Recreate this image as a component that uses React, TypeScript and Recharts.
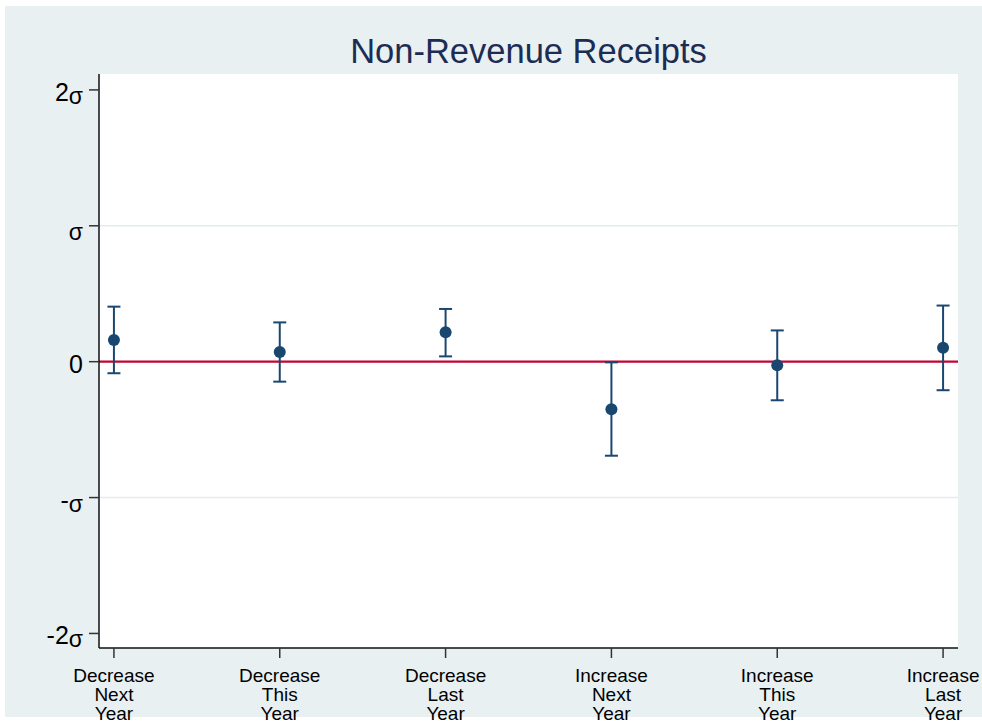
import React from 'react';
import {
  ComposedChart,
  Scatter,
  ErrorBar,
  XAxis,
  YAxis,
  CartesianGrid,
  ReferenceLine,
  Customized,
} from 'recharts';

// Category labels, one line per entry
const categoryLines: string[][] = [
  ['Decrease', 'Next', 'Year'],
  ['Decrease', 'This', 'Year'],
  ['Decrease', 'Last', 'Year'],
  ['Increase', 'Next', 'Year'],
  ['Increase', 'This', 'Year'],
  ['Increase', 'Last', 'Year'],
];
const positions = [1, 2, 3, 4, 5, 6];

// Point estimates and confidence bounds, in standard deviations
const estimates = [0.16, 0.071, 0.217, -0.35, -0.026, 0.103];
const upperBounds = [0.405, 0.289, 0.388, -0.005, 0.23, 0.413];
const lowerBounds = [-0.085, -0.147, 0.039, -0.692, -0.284, -0.21];

// Y axis ticks and their sigma labels
const sigmaTicks = [-2, -1, 0, 1, 2];
const sigmaLabels = ['-2', '-', '0', '', '2'];
const sigmaHasSymbol = [true, true, false, true, true];

const data = positions.map((x, i) => ({
  x,
  y: estimates[i],
  err: [estimates[i] - lowerBounds[i], upperBounds[i] - estimates[i]],
}));

const NAVY = '#1a476f';
const FONT = '"Liberation Sans", Arial, Helvetica, sans-serif';

const YTick = (props: any) => {
  const { x, y, payload } = props;
  const idx = sigmaTicks.indexOf(payload.value);
  return (
    <text x={x} y={y + 11} textAnchor="end" fontSize={25} fontFamily={FONT} fill="#000">
      {sigmaLabels[idx]}
      {sigmaHasSymbol[idx] ? (
        <tspan fontSize={23} dy={3}>σ</tspan>
      ) : null}
    </text>
  );
};

const XTick = (props: any) => {
  const { x, y, payload } = props;
  const idx = positions.indexOf(payload.value);
  const lines = categoryLines[idx] || [];
  return (
    <text x={x} y={y} textAnchor="middle" fontSize={19} fontFamily={FONT} fill="#000">
      {lines.map((t, i) => (
        <tspan key={i} x={x} y={y + 24 + i * 19}>
          {t}
        </tspan>
      ))}
    </text>
  );
};

const Title = (props: any) => {
  const offset = props.offset || { left: 99, width: 859 };
  const cx = offset.left + offset.width / 2;
  return (
    <text x={cx} y={63} textAnchor="middle" fontSize={34.5} fontFamily={FONT} fill="#1c2c52">
      Non-Revenue Receipts
    </text>
  );
};

const Dot = (props: any) => {
  const { cx, cy } = props;
  return <circle cx={cx} cy={cy} r={6} fill={NAVY} />;
};

export default function App() {
  return (
    <div
      style={{
        position: 'absolute',
        left: 0,
        top: 0,
        width: 982,
        height: 727,
        background: '#ffffff',
      }}
    >
      <div
        style={{
          position: 'absolute',
          left: 5,
          top: 6,
          width: 977,
          height: 711,
          background: '#e8f0f2',
        }}
      />
      <div style={{ position: 'absolute', left: 0, top: 0 }}>
        <ComposedChart
          width={982}
          height={727}
          data={data}
          margin={{ top: 74, right: 24, bottom: 0, left: 0 }}
          style={{ overflow: 'visible' }}
        >
          <CartesianGrid
            vertical={false}
            horizontalValues={[-1, 1]}
            fill="#ffffff"
            stroke="#e2ebee"
            strokeWidth={1.5}
          />
          <XAxis
            type="number"
            dataKey="x"
            domain={[0.91, 6.09]}
            ticks={positions}
            allowDataOverflow
            height={79}
            tickSize={10}
            tickMargin={0}
            tick={<XTick />}
            axisLine={{ stroke: '#111', strokeWidth: 1.5 }}
            tickLine={{ stroke: '#333', strokeWidth: 1.5 }}
            interval={0}
          />
          <YAxis
            type="number"
            dataKey="y"
            domain={[-2.107, 2.117]}
            ticks={sigmaTicks}
            allowDataOverflow
            width={99}
            tickSize={10}
            tickMargin={6}
            tick={<YTick />}
            axisLine={{ stroke: '#111', strokeWidth: 1.5 }}
            tickLine={{ stroke: '#333', strokeWidth: 1.5 }}
            interval={0}
          />
          <ReferenceLine y={0} stroke="#c10534" strokeWidth={2.2} />
          <Scatter dataKey="y" isAnimationActive={false} shape={<Dot />}>
            <ErrorBar
              dataKey="err"
              direction="y"
              width={6.5}
              stroke={NAVY}
              strokeWidth={2}
              isAnimationActive={false}
            />
          </Scatter>
          <Customized component={Title} />
        </ComposedChart>
      </div>
    </div>
  );
}
